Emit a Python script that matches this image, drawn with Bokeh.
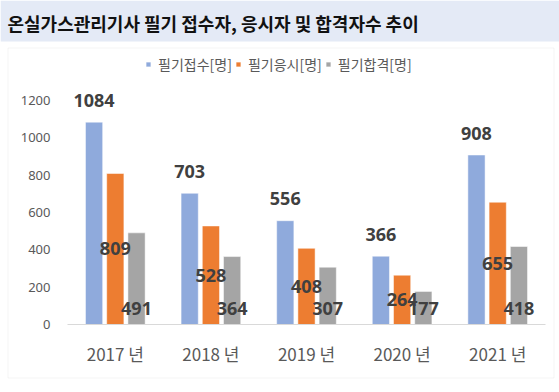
from bokeh.plotting import figure
from bokeh.models import (ColumnDataSource, LabelSet, Label, BoxAnnotation, Range1d,
                          FixedTicker, Legend, LegendItem)
from bokeh.core.properties import value
from bokeh.transform import dodge
from bokeh.embed import file_html
from bokeh.resources import INLINE

# ---- data ----
years = ["2017 년", "2018 년", "2019 년", "2020 년", "2021 년"]
applied = [1084, 703, 556, 366, 908]   # 필기접수[명]
took = [809, 528, 408, 264, 655]       # 필기응시[명]
passed = [491, 364, 307, 177, 418]     # 필기합격[명]
series_names = ["필기접수[명]", "필기응시[명]", "필기합격[명]"]
y_ticks = [0, 200, 400, 600, 800, 1000, 1200]
title_text = "온실가스관리기사 필기 접수자, 응시자 및 합격자수 추이"

idx = list(range(len(years)))
src = ColumnDataSource(dict(
    idx=idx,
    applied=applied, took=took, passed=passed,
    took_mid=[v / 2 for v in took],
    zero=[0] * len(idx),
    applied_txt=[str(v) for v in applied],
    took_txt=[str(v) for v in took],
    passed_txt=[str(v) for v in passed],
))

W, H = 559, 392
# layout in pixels: plot area x 67..545, y(0)=324, y(1200)=100
ppx = (545 - 67) / 5.0
ppy = (324 - 100) / 1200.0
x0 = -0.5 - 67 / ppx
x1 = 4.5 + (W - 545) / ppx
y0 = -(H - 324) / ppy
y1 = 324 / ppy

p = figure(width=W, height=H, output_backend="svg", toolbar_location=None,
           x_range=Range1d(x0, x1), y_range=Range1d(y0, y1),
           min_border=0, min_border_left=0, min_border_right=0,
           min_border_top=0, min_border_bottom=0)
p.outline_line_color = None
p.background_fill_color = "white"
p.border_fill_color = "white"
p.xgrid.visible = False
p.ygrid.visible = False

# title band and chart box (screen units, frame == whole canvas)
band = BoxAnnotation(left=0, right=W, top=H, bottom=H - 41,
                     left_units="screen", right_units="screen", top_units="screen", bottom_units="screen",
                     fill_color="#E4EAF6", fill_alpha=1, line_color=None, level="underlay")
p.add_layout(band)
box = BoxAnnotation(left=7.5, right=553.5, top=H - 47.5, bottom=H - 377.5,
                    left_units="screen", right_units="screen", top_units="screen", bottom_units="screen",
                    fill_alpha=0, line_color="#D9D9D9", line_width=1, level="underlay")
p.add_layout(box)

BLUE, ORANGE, GRAY = "#8FAADC", "#ED7D31", "#A5A5A5"
bw = 0.18
off = 0.222
r1 = p.vbar(x=dodge("idx", -off, range=p.x_range), top="applied", width=bw, source=src,
            fill_color=BLUE, line_color="white", line_width=0.5)
r2 = p.vbar(x=dodge("idx", 0, range=p.x_range), top="took", width=bw, source=src,
            fill_color=ORANGE, line_color="white", line_width=0.5)
r3 = p.vbar(x=dodge("idx", off, range=p.x_range), top="passed", width=bw, source=src,
            fill_color=GRAY, line_color="white", line_width=0.5)

lab_kw = dict(source=src, text_align="center", text_baseline="middle",
              text_font=value("Noto Sans"), text_font_size="18px", text_font_style="bold",
              text_color="#404040")
p.add_layout(LabelSet(x=dodge("idx", -off, range=p.x_range), y="applied", text="applied_txt",
                      y_offset=22, **lab_kw))
p.add_layout(LabelSet(x=dodge("idx", 0, range=p.x_range), y="took_mid", text="took_txt",
                      **lab_kw))
p.add_layout(LabelSet(x=dodge("idx", off, range=p.x_range), y="zero", text="passed_txt",
                      y_offset=16, **lab_kw))

# axes inside the frame
p.yaxis.fixed_location = -0.5
p.yaxis.ticker = FixedTicker(ticks=y_ticks)
p.yaxis.axis_line_color = None
p.yaxis.major_tick_line_color = None
p.yaxis.minor_tick_line_color = None
p.yaxis.major_label_standoff = 11
p.yaxis.major_label_text_font = "Noto Sans"
p.yaxis.major_label_text_font_size = "13px"
p.yaxis.major_label_text_color = "#595959"

p.xaxis.fixed_location = 0
p.xaxis.bounds = (-0.5, 4.5)
p.xaxis.ticker = FixedTicker(ticks=idx)
p.xaxis.major_label_overrides = {i: y for i, y in zip(idx, years)}
p.xaxis.axis_line_color = "#D9D9D9"
p.xaxis.major_tick_line_color = None
p.xaxis.minor_tick_line_color = None
p.xaxis.major_label_standoff = 10
p.xaxis.major_label_text_font = "Noto Sans CJK KR"
p.xaxis.major_label_text_font_size = "17px"
p.xaxis.major_label_text_color = "#595959"

# legend
legend = Legend(items=[LegendItem(label=series_names[0], renderers=[r1]),
                       LegendItem(label=series_names[1], renderers=[r2]),
                       LegendItem(label=series_names[2], renderers=[r3])],
                orientation="horizontal", location=(145, H - 74),
                glyph_width=6, glyph_height=6, label_standoff=7, spacing=3,
                padding=0, margin=0, label_height=14,
                label_text_font="Noto Sans CJK KR", label_text_font_size="14px",
                label_text_color="#595959", border_line_color=None,
                background_fill_alpha=0)
p.add_layout(legend, "center")

p.add_layout(Label(x=7, y=H - 22, x_units="screen", y_units="screen", text=title_text,
                   text_font="Noto Sans CJK KR", text_font_size="18px", text_font_style="bold",
                   text_color="#111111", text_baseline="middle", text_align="left"))

open("out.html", "w").write(file_html(p, INLINE))
